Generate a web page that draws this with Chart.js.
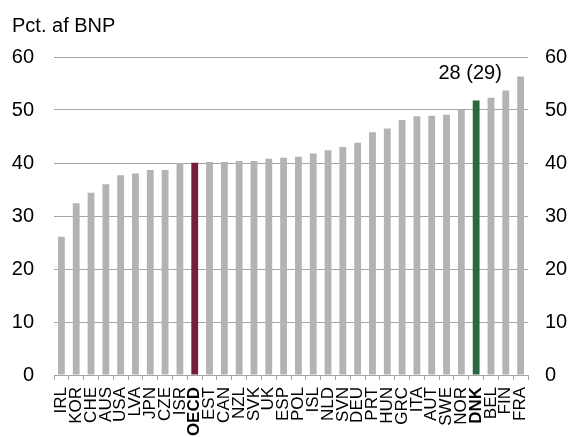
<!DOCTYPE html>
<html>
<head>
<meta charset="utf-8">
<script src="https://cdn.jsdelivr.net/npm/chart.js@4/dist/chart.umd.min.js"></script>
<style>
  html, body { margin: 0; padding: 0; background: #fff; }
  #wrap { width: 572px; height: 437px; }
</style>
</head>
<body>
<div id="wrap"><canvas id="chartBnp"></canvas></div>
<script>
'use strict';

const countries = ['IRL', 'KOR', 'CHE', 'AUS', 'USA', 'LVA', 'JPN', 'CZE', 'ISR', 'OECD',
  'EST', 'CAN', 'NZL', 'SVK', 'UK', 'ESP', 'POL', 'ISL', 'NLD', 'SVN', 'DEU', 'PRT',
  'HUN', 'GRC', 'ITA', 'AUT', 'SWE', 'NOR', 'DNK', 'BEL', 'FIN', 'FRA'];
const shares = [26.1, 32.4, 34.4, 36.0, 37.7, 38.0, 38.7, 38.7, 40.0, 40.05,
  40.2, 40.2, 40.4, 40.4, 40.8, 41.0, 41.2, 41.8, 42.4, 43.0, 43.8, 45.8,
  46.5, 48.1, 48.8, 48.9, 49.1, 50.0, 51.8, 52.3, 53.7, 56.3];
const yTicks = [0, 10, 20, 30, 40, 50, 60];
const highlight = { OECD: '#7b1c3c', DNK: '#2a6840' };
const rankLabel = { country: 'DNK', text: '28 (29)' };
const unitTitle = 'Pct. af BNP';

const fontFamily = '"Liberation Sans", Arial, sans-serif';

// unit text top left + rank text above the Danish bar
const textPlugin = {
  id: 'texts',
  afterDraw(chart) {
    const idx = countries.indexOf(rankLabel.country);
    const bar = chart.getDatasetMeta(0).data[idx];
    const ctx = chart.ctx;
    ctx.save();
    ctx.font = '20px ' + fontFamily;
    ctx.fillStyle = '#000';
    ctx.textBaseline = 'alphabetic';
    ctx.textAlign = 'left';
    ctx.fillText(unitTitle, 12, 32);
    ctx.textAlign = 'center';
    ctx.fillText(rankLabel.text, bar.x - 6, bar.y - 21);
    ctx.restore();
  }
};

const yAxis = (pos, width) => ({
  position: pos,
  min: 0,
  max: 60,
  afterBuildTicks: scale => { scale.ticks = yTicks.map(v => ({ value: v })); },
  afterFit: scale => { scale.width = width; },
  border: { display: false },
  grid: { display: pos === 'left', color: '#a6a6a6', lineWidth: 1, drawTicks: false },
  ticks: {
    color: '#000',
    padding: pos === 'left' ? 20 : 17,
    font: { family: fontFamily, size: 20 }
  }
});

new Chart(document.getElementById('chartBnp'), {
  type: 'bar',
  data: {
    labels: countries,
    datasets: [{
      data: shares,
      backgroundColor: countries.map(c => highlight[c] || '#b3b3b3'),
      barPercentage: 0.46,
      categoryPercentage: 1
    }]
  },
  options: {
    responsive: true,
    maintainAspectRatio: false,
    animation: false,
    layout: { padding: { top: 57, left: 0, right: 0, bottom: 0 } },
    plugins: {
      legend: { display: false },
      tooltip: { enabled: false },
      title: { display: false }
    },
    scales: {
      x: {
        afterFit: scale => { scale.height = 62; },
        border: { display: true, color: '#a6a6a6' },
        grid: { offset: true, drawOnChartArea: false, drawTicks: true, tickLength: 5, color: '#a6a6a6' },
        ticks: {
          autoSkip: false,
          minRotation: 90,
          maxRotation: 90,
          padding: 7,
          color: '#000',
          font: ctx => ({
            family: fontFamily,
            size: 17,
            weight: highlight[countries[ctx.index]] ? 'bold' : 'normal'
          })
        }
      },
      y: yAxis('left', 54),
      y2: yAxis('right', 44)
    }
  },
  plugins: [textPlugin]
});
</script>
</body>
</html>
